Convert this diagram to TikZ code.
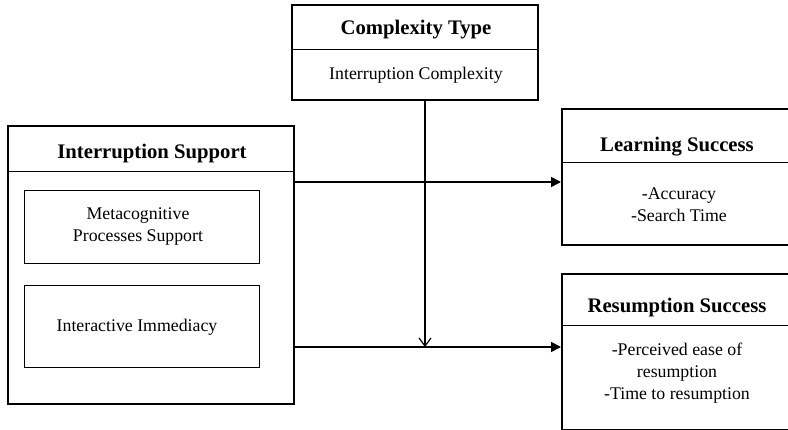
\documentclass[tikz,border=0pt]{standalone}
\usepackage{fontspec}
\setmainfont{Liberation Serif}
\usetikzlibrary{arrows.meta}

\begin{document}
\begin{tikzpicture}[x=1pt,y=-1pt,
    box/.style={draw,line width=2pt,inner sep=0pt,anchor=north west},
    inbox/.style={draw,line width=1.3pt,inner sep=0pt,anchor=north west},
    head/.style={font=\bfseries\fontsize{20.7}{24}\selectfont},
    body/.style={align=center,font=\fontsize{17.8}{22}\selectfont},
    sep/.style={line width=1pt},
    flow/.style={line width=1.6pt,-{Triangle[length=10pt,width=10pt]}}]
    \useasboundingbox (0,0) rectangle (788,430);
    \clip (0,0) rectangle (788,430);

    % complexity type
    \node[box,minimum width=246pt,minimum height=95pt] (ctype) at (291,4) {};
    \draw[sep] (ctype.west |- 0,50) -- (ctype.east |- 0,50);
    \node[head] (ctypehead) at (416,30) {Complexity Type};
    \node[body] (ctypebody) at (416,75) {Interruption Complexity};

    % interruption support
    \node[box,minimum width=286pt,minimum height=278pt] (isup) at (7,125) {};
    \draw[sep] (isup.west |- 0,172) -- (isup.east |- 0,172);
    \node[head] (isuphead) at (152,154) {Interruption Support};
    \node[inbox,minimum width=235pt,minimum height=73pt] (meta) at (24,190) {};
    \node[body] (metatext) at (138,227) {Metacognitive\\Processes Support};
    \node[inbox,minimum width=235pt,minimum height=82pt] (immed) at (24,285) {};
    \node[body] (immedtext) at (137,327) {Interactive Immediacy};

    % learning success
    \node[box,minimum width=240pt,minimum height=136pt] (learn) at (561,108) {};
    \draw[sep] (learn.west |- 0,163) -- (learn.east |- 0,163);
    \node[head] (learnhead) at (677,147) {Learning Success};
    \node[body] (learnbody) at (679,205) {-Accuracy\\-Search Time};

    % resumption success
    \node[box,minimum width=240pt,minimum height=156pt] (resum) at (561,273) {};
    \draw[sep] (resum.west |- 0,326) -- (resum.east |- 0,326);
    \node[head] (resumhead) at (677,308) {Resumption Success};
    \node[body] (resumbody) at (677,373) {-Perceived ease of\\resumption\\-Time to resumption};

    % connectors
    \coordinate (upper) at (0,182);
    \coordinate (lower) at (0,347);
    \coordinate (drop) at (425,347);
    \draw[flow] (isup.east |- upper) -- (learn.west |- upper);
    \draw[flow] (isup.east |- lower) -- (resum.west |- lower);
    \draw[line width=1.2pt,-{Straight Barb[length=8pt,width=12pt,line width=1.2pt]}] (ctype.south -| drop) -- (drop);
\end{tikzpicture}
\end{document}
